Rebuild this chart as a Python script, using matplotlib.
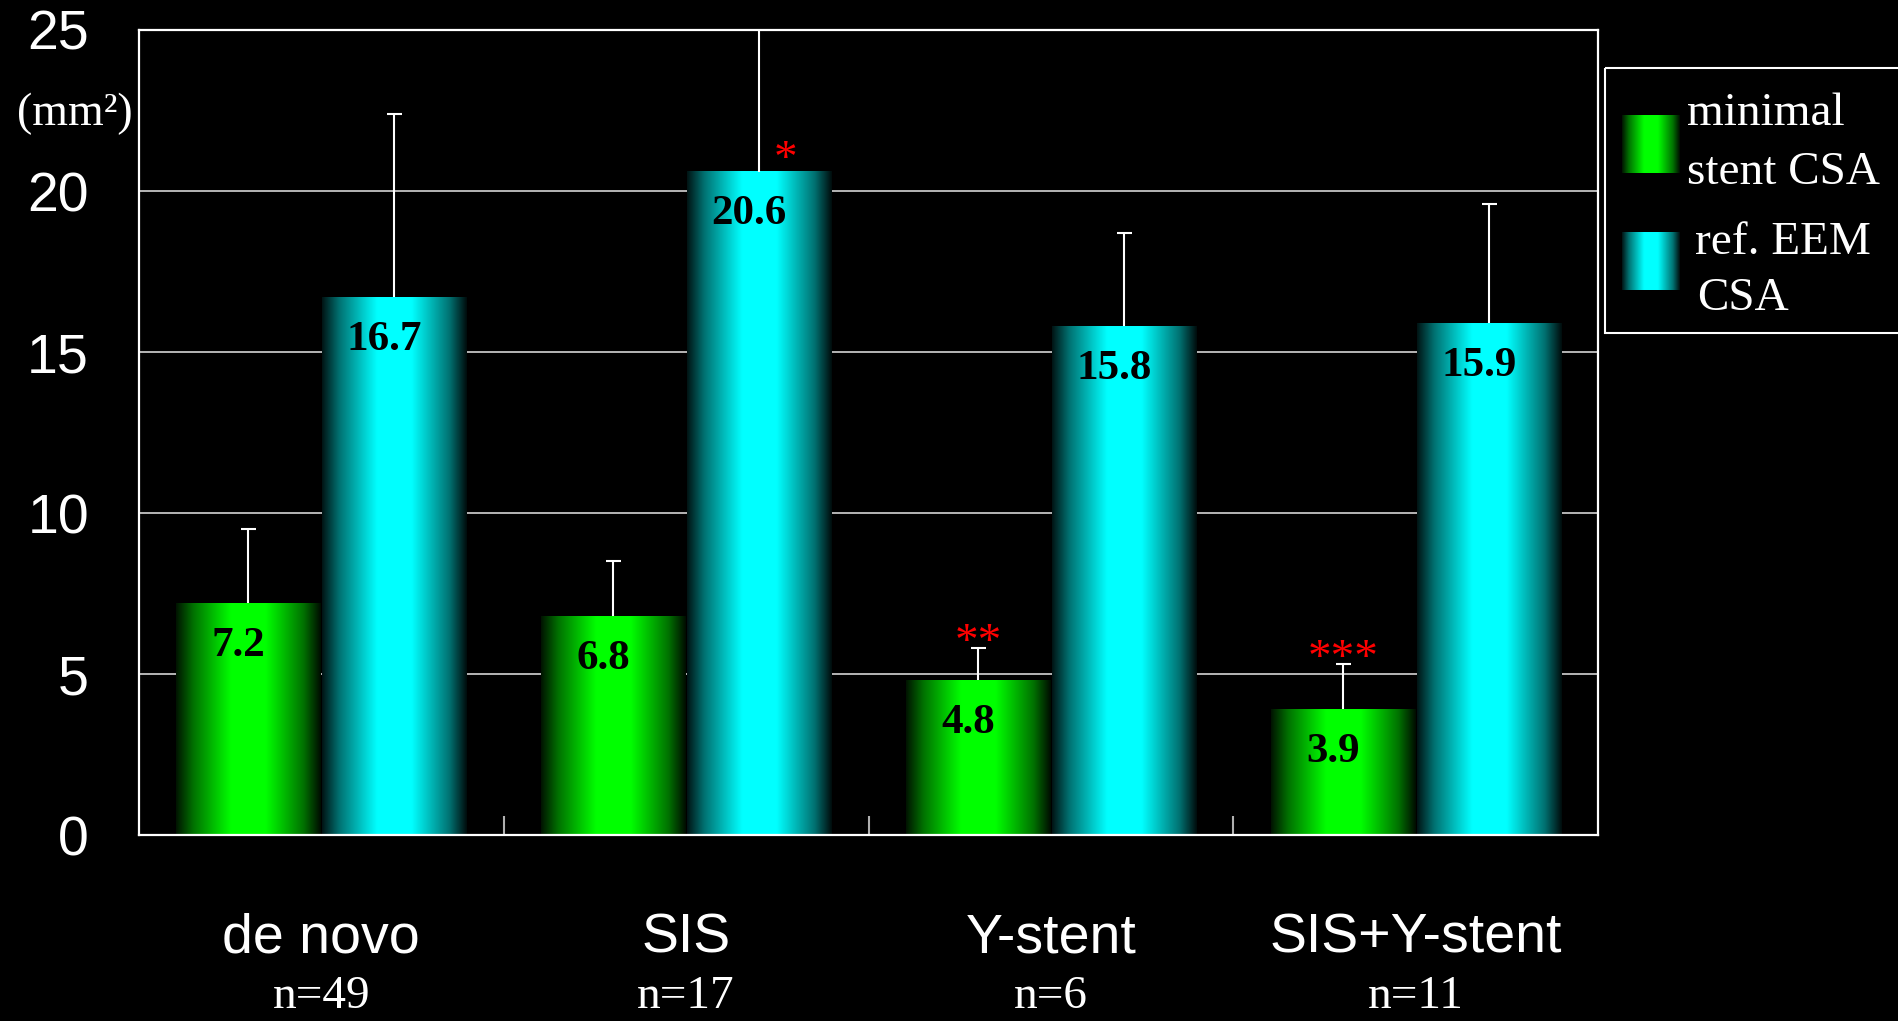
import numpy as np
import matplotlib
matplotlib.use("Agg")
import matplotlib.pyplot as plt
from matplotlib.patches import Rectangle

# data
groups = ["de novo", "SIS", "Y-stent", "SIS+Y-stent"]
n_labels = ["n=49", "n=17", "n=6", "n=11"]
stent_csa = [7.2, 6.8, 4.8, 3.9]
stent_sd = [2.3, 1.7, 1.0, 1.4]
eem_csa = [16.7, 20.6, 15.8, 15.9]
eem_sd = [5.7, 4.6, 2.9, 3.7]
stent_sig = ["", "", "**", "***"]
eem_sig = ["", "*", "", ""]
yticks = [0, 5, 10, 15, 20, 25]

W, H = 1898, 1021
SERIF = ["Liberation Serif", "DejaVu Serif"]
SANS = ["Liberation Sans", "DejaVu Sans"]


def shade(rgb, n=256):
    # cylinder-like horizontal shading: dark edges, bright middle
    t = np.linspace(0, 1, n)
    b = np.interp(t, [0, 0.12, 0.38, 0.62, 0.88, 1.0],
                  [0.08, 0.45, 1.0, 1.0, 0.45, 0.05])
    return (np.outer(b, rgb)).reshape(1, n, 3)


green = np.array([0.0, 1.0, 0.0])
cyan = np.array([0.0, 1.0, 1.0])

fig = plt.figure(figsize=(W / 100, H / 100), dpi=100, facecolor="black")
ax = fig.add_axes([139 / W, 1 - 835 / H, (1598 - 139) / W, (835 - 30) / H])
ax.set_facecolor("black")

x = np.arange(len(groups))
bw = 0.395
b1 = ax.bar(x - 0.2, stent_csa, bw, color="none", zorder=2)
b2 = ax.bar(x + 0.2, eem_csa, bw, color="none", zorder=2)

for bars, col in [(b1, green), (b2, cyan)]:
    img = shade(col)
    for r in bars:
        ax.imshow(img, extent=[r.get_x(), r.get_x() + r.get_width(), 0, r.get_height()],
                  aspect="auto", zorder=2, interpolation="bilinear")

# upper-only error bars (stem + top cap)
for xs, vals, sds in [(x - 0.2, stent_csa, stent_sd), (x + 0.2, eem_csa, eem_sd)]:
    tops = np.array(vals) + np.array(sds)
    ax.vlines(xs, vals, tops, color="white", linewidth=1.5, zorder=3)
    ax.plot(xs, tops, ls="none", marker="_", ms=10.8, mew=1.5, color="white", zorder=3)

# value labels inside bars
for xs, vals in [(x - 0.2, stent_csa), (x + 0.2, eem_csa)]:
    for xi, v in zip(xs, vals):
        ax.annotate(f"{v}", (xi, v), xytext=(-7, -38), textcoords="offset points",
                    ha="center", va="baseline", fontsize=31, fontweight="bold",
                    family=SERIF, color="black", zorder=4)

# significance marks
for xi, v, sd, s in zip(x - 0.2, stent_csa, stent_sd, stent_sig):
    if s:
        ax.annotate(s, (xi, v + sd), xytext=(0, -5), textcoords="offset points",
                    ha="center", va="baseline", fontsize=34, family=SERIF,
                    color="red", zorder=4)
for xi, v, s in zip(x + 0.2, eem_csa, eem_sig):
    if s:
        ax.annotate(s, (xi, v), xytext=(19, 0), textcoords="offset points",
                    ha="center", va="baseline", fontsize=34, family=SERIF,
                    color="red", zorder=4)

ax.set_xlim(-0.5, 3.5)
ax.set_ylim(0, 25)
ax.set_yticks(yticks)
ax.set_yticklabels([str(t) for t in yticks], fontsize=40, color="white", family=SANS)
ax.tick_params(axis="y", length=0, pad=36)
ax.set_xticks([])
ax.set_xticks(x[:-1] + 0.5, minor=True)
ax.tick_params(axis="x", which="minor", direction="in", length=14, width=1.5,
               color="#b0b0b0", labelbottom=False)
ax.grid(axis="y", color="#c4c4c4", linewidth=1.3, zorder=0)
ax.set_axisbelow(True)
for sp in ax.spines.values():
    sp.set_color("white")
    sp.set_linewidth(1.6)

xt = ax.get_xaxis_transform()
for xi, g, n in zip(x, groups, n_labels):
    ax.text(xi, -(952 - 835) / 805, g, transform=xt, ha="center", va="baseline",
            fontsize=40, color="white", family=SANS)
    ax.text(xi, -(1008 - 835) / 805, n, transform=xt, ha="center", va="baseline",
            fontsize=34, color="white", family=SERIF)

# overlay in pixel coordinates for unit label and legend
lax = fig.add_axes([0, 0, 1, 1])
lax.axis("off")
lax.text(75, 125, "(mm²)", ha="center", va="baseline", fontsize=33,
         color="white", family=SERIF)
lax.add_patch(Rectangle((1605, 68), 400, 265, fill=False, ec="white", lw=1.5,
                        clip_on=False))
lax.imshow(shade(green), extent=[1622, 1680, 173, 115], aspect="auto")
lax.imshow(shade(cyan), extent=[1622, 1680, 290, 232], aspect="auto")
leg_txt = [(1687, 125, "minimal"), (1687, 184, "stent CSA"),
           (1695, 254, "ref. EEM"), (1697, 310, "CSA")]
for lx, ly, s in leg_txt:
    lax.text(lx, ly, s, ha="left", va="baseline", fontsize=34, color="white",
             family=SERIF)
lax.set_xlim(0, W)
lax.set_ylim(H, 0)

fig.savefig("out.png", dpi=100, facecolor="black")
